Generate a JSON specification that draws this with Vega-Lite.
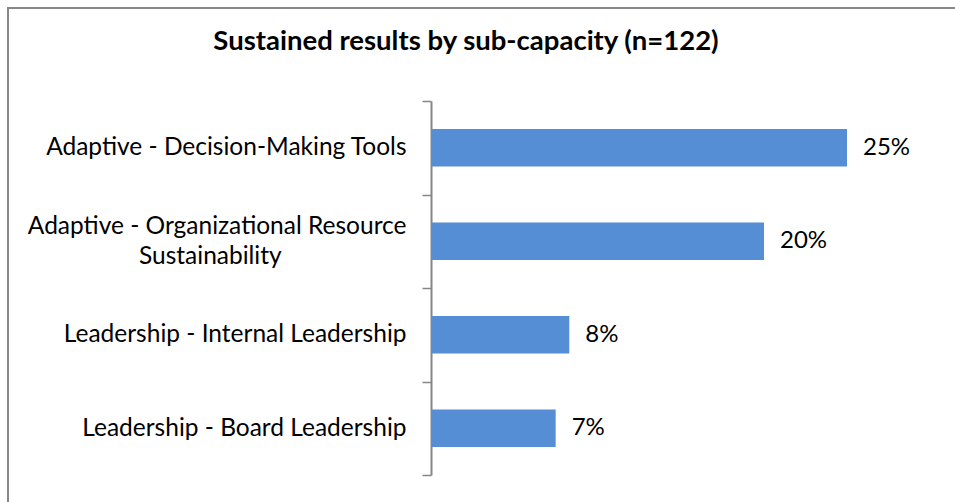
{
  "$schema": "https://vega.github.io/schema/vega-lite/v6.json",
  "autosize": "none",
  "padding": {"left": 8, "top": 8, "right": -5, "bottom": -5},
  "width": 952,
  "height": 499,
  "background": "white",
  "title": {
    "text": "Sustained results by sub-capacity (n=122)",
    "frame": "group",
    "anchor": "middle",
    "offset": -60,
    "dx": -18,
    "font": "Lato",
    "fontSize": 27.5,
    "fontWeight": "bold",
    "color": "#000000"
  },
  "data": {
    "values": [
      {"category": "Adaptive - Decision-Making Tools", "value": 0.25},
      {"category": "Adaptive - Organizational Resource Sustainability", "value": 0.2},
      {"category": "Leadership - Internal Leadership", "value": 0.0827},
      {"category": "Leadership - Board Leadership", "value": 0.0745}
    ]
  },
  "encoding": {
    "y": {
      "field": "category",
      "type": "nominal",
      "sort": null,
      "scale": {"range": [93, 467], "paddingInner": 0, "paddingOuter": 0},
      "axis": {
        "title": null,
        "orient": "left",
        "offset": -423,
        "domainColor": "#868686",
        "domainWidth": 2,
        "tickColor": "#868686",
        "tickWidth": 1.5,
        "tickSize": 9,
        "tickBand": "extent",
        "labelFont": "Lato",
        "labelFontSize": 24.5,
        "labelColor": "#000000",
        "labelPadding": 16,
        "labelLimit": 600,
        "labelLineHeight": 30,
        "labelOffset": {"expr": "datum.value == 'Adaptive - Organizational Resource Sustainability' ? -15 : 0"},
        "labelExpr": "datum.label == 'Adaptive - Organizational Resource Sustainability' ? ['Adaptive - Organizational Resource', 'Sustainability\u00a0\u00a0\u00a0\u00a0\u00a0\u00a0\u00a0\u00a0\u00a0\u00a0\u00a0\u00a0\u00a0\u00a0\u00a0\u00a0\u00a0\u00a0\u00a0\u00a0\u200b'] : datum.label"
      }
    },
    "x": {
      "field": "value",
      "type": "quantitative",
      "scale": {"domain": [-0.25542, 0.31807], "nice": false, "zero": false},
      "axis": null
    }
  },
  "layer": [
    {
      "mark": {"type": "bar", "color": "#558ed5", "height": {"band": 0.4}}
    },
    {
      "mark": {"type": "text", "align": "left", "baseline": "middle", "dx": 16, "font": "Lato", "fontSize": 24, "color": "#000000"},
      "encoding": {"text": {"field": "value", "type": "quantitative", "format": ".0%"}}
    }
  ],
  "config": {
    "view": {"stroke": "#878787", "strokeWidth": 2}
  }
}
